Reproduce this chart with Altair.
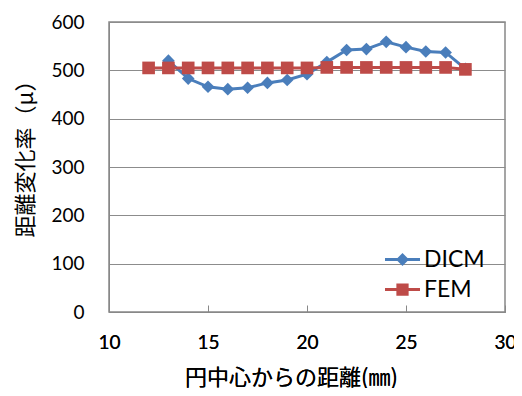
import altair as alt
import pandas as pd

title_text = "(b)\u30001-2"
x_title = "円中心からの距離(㎜)"
y_title = "距離変化率（μ）"

dicm_x = [13, 14, 15, 16, 17, 18, 19, 20, 21, 22, 23, 24, 25, 26, 27, 28]
dicm_y = [520, 483, 466, 461, 464, 474, 480, 492, 517, 542, 544, 559, 548, 539, 537, 503]
fem_x = [12, 13, 14, 15, 16, 17, 18, 19, 20, 21, 22, 23, 24, 25, 26, 27, 28]
fem_y = [505, 505, 505, 505, 505, 505, 505, 505, 505, 506, 506, 506, 506, 506, 506, 506, 502]
series_names = ["DICM", "FEM"]
series_colors = ["#4A7EBB", "#BE4B48"]

df = pd.concat([
    pd.DataFrame({"x": dicm_x, "y": dicm_y, "series": "DICM", "order": 0}),
    pd.DataFrame({"x": fem_x, "y": fem_y, "series": "FEM", "order": 1}),
])

# legend symbols: line with marker (custom paths)
leg_diamond = "M-1,-0.09H1V0.09H-1Z M0,-0.37L0.37,0L0,0.37L-0.37,0Z"
leg_square = "M-1,-0.09H1V0.09H-1Z M-0.35,-0.35H0.35V0.35H-0.35Z"

xs = alt.Scale(domain=[10, 30])
ys = alt.Scale(domain=[0, 600])
color = alt.Color("series:N", scale=alt.Scale(domain=series_names, range=series_colors), legend=None)

base = alt.Chart(df)

lines = base.mark_line(strokeWidth=3).encode(
    x=alt.X("x:Q", scale=xs, title=x_title,
            axis=alt.Axis(values=[10, 15, 20, 25, 30], orient="bottom", ticks=False, grid=False,
                          labelPadding=21, labelFlush=False, domain=True, domainColor="#888888",
                          titleX=182, titleY=65, titleBaseline="middle")),
    y=alt.Y("y:Q", scale=ys, title=y_title,
            axis=alt.Axis(values=[0, 100, 200, 300, 400, 500, 600], ticks=False,
                          grid=True, gridColor="#8c8c8c", labelPadding=25, labelFlush=False,
                          domainColor="#888888", titleX=-84, titleY=131,
                          titleAngle=-90, titleAlign="center", titleBaseline="middle")),
    color=color,
    detail="series:N",
)

points = base.mark_point(filled=True, opacity=1, size=160).encode(
    x=alt.X("x:Q", scale=xs, axis=None),
    y=alt.Y("y:Q", scale=ys),
    color=color,
    shape=alt.Shape("series:N", scale=alt.Scale(domain=series_names, range=["diamond", "square"]), legend=None),
    order="order:Q",
)

dicm_layer_line = lines.transform_filter("datum.series == 'DICM'")
dicm_layer_pts = points.transform_filter("datum.series == 'DICM'")
fem_layer_line = lines.transform_filter("datum.series == 'FEM'")
fem_layer_pts = points.transform_filter("datum.series == 'FEM'")

legend_layer = alt.Chart(df).mark_point(filled=True, opacity=1).transform_filter("false").encode(
    x=alt.X("x:Q", scale=xs, axis=None),
    y=alt.Y("y:Q", scale=ys),
    fill=alt.Fill("series:N", scale=alt.Scale(domain=series_names, range=series_colors), legend=None),
    shape=alt.Shape("series:N",
                    scale=alt.Scale(domain=series_names, range=[leg_diamond, leg_square]),
                    legend=alt.Legend(title=None, orient="none", legendX=276, legendY=220,
                                      symbolSize=1225, symbolStrokeWidth=0,
                                      labelFont="Lato", labelFontSize=23, labelColor="#000000",
                                      labelOffset=4, rowPadding=-5)),
)

# inward ticks on bottom axis
tick_axis = alt.Chart(df).mark_point(opacity=0).encode(
    x=alt.X("x:Q", scale=xs,
            axis=alt.Axis(values=[10, 15, 20, 25, 30], orient="bottom", offset=-7, tickSize=7,
                          tickColor="#888888", tickWidth=1, labels=False, domain=False,
                          grid=False, title=None)),
)

chart = alt.layer(
    dicm_layer_line, dicm_layer_pts, fem_layer_line, fem_layer_pts, legend_layer, tick_axis
).resolve_scale(shape="independent", fill="independent").resolve_axis(x="independent").properties(
    width=396, height=290,
    title=alt.TitleParams(title_text, font="Lato", fontSize=24, fontWeight="normal",
                          color="#000000", anchor="middle", frame="group", dx=-34,
                          offset=-7, baseline="alphabetic"),
    autosize=alt.AutoSizeParams(type="none"),
    padding={"left": 101, "top": 14, "right": 9, "bottom": 76},
    background="white",
).configure_view(stroke="#888888", strokeWidth=1.5).configure_axis(
    labelFont="Lato", labelFontSize=19, labelColor="#000000",
    titleFont="Noto Sans CJK JP", titleFontSize=22, titleFontWeight="normal", titleColor="#000000",
)

chart.save("out.html", embed_options={"renderer": "svg", "actions": False})
